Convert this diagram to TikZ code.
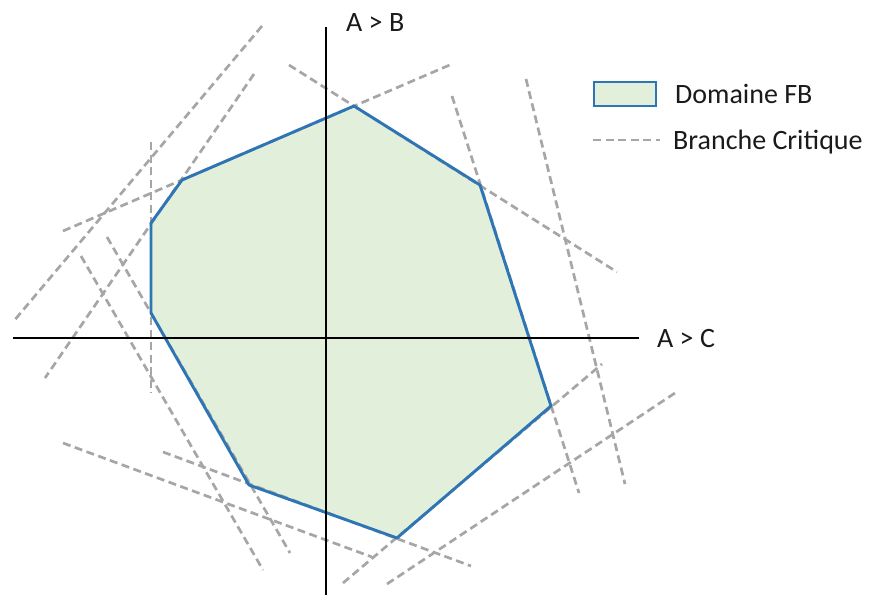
\documentclass[tikz,border=0pt]{standalone}
\usepackage{fontspec}
\setmainfont{Carlito}
\definecolor{fbfill}{HTML}{E2EFDA}
\definecolor{fbline}{HTML}{2E75B6}
\definecolor{critgray}{HTML}{A6A6A6}
\definecolor{txt}{HTML}{1A1A1A}
\tikzset{
  crit/.style={draw=critgray, line width=2.7pt, dash pattern=on 8pt off 4.5pt},
  axisline/.style={draw=black, line width=2.9pt},
  fbedge/.style={draw=fbline, line width=2.9pt, line join=round},
  lbl/.style={font=\fontsize{28}{32}\selectfont, text=txt, inner sep=0pt, anchor=base west}
}
\begin{document}
\begin{tikzpicture}[x=1pt,y=-1pt]
\useasboundingbox (0,0) rectangle (870,595);
% polygon vertices
\coordinate (p1) at (354,106);
\coordinate (p2) at (480,185);
\coordinate (p3) at (551,406);
\coordinate (p4) at (397,538);
\coordinate (p5) at (249,485);
\coordinate (p6) at (151,313);
\coordinate (p7) at (151,223);
\coordinate (p8) at (182,180);
\fill[fbfill] (p1) -- (p2) -- (p3) -- (p4) -- (p5) -- (p6) -- (p7) -- (p8) -- cycle;
% critical branches
\draw[crit] (262,26) -- (13,322);
\draw[crit] (254,74) -- (45,378);
\draw[crit] (151,142) -- (151,393);
\draw[crit] (63,231) -- (452,64);
\draw[crit] (289,65) -- (617,272);
\draw[crit] (452,96) -- (579,493);
\draw[crit] (526,79) -- (625,484);
\draw[crit] (343,583) -- (602,364);
\draw[crit] (387,584) -- (678,391);
\draw[crit] (163,452) -- (471,566);
\draw[crit] (63,443) -- (372,557);
\draw[crit] (107,237) -- (290,553);
\draw[crit] (81,256) -- (263,570);
% domain outline
\draw[fbedge] (p1) -- (p2) -- (p3) -- (p4) -- (p5) -- (p6) -- (p7) -- (p8) -- cycle;
% axes
\coordinate (yt) at (326,27);
\coordinate (yb) at (326,595);
\coordinate (xl) at (13,338);
\coordinate (xr) at (639,338);
\draw[axisline] (yb) -- (yt);
\draw[axisline] (xl) -- (xr);
\node[lbl] (lab) at (346,31) {A > B};
\node[lbl] (lac) at (657,347) {A > C};
% legend
\node[draw=fbline, fill=fbfill, line width=2.9pt, minimum width=62pt, minimum height=24pt, inner sep=0pt] (legbox) at (625,94) {};
\node[lbl] (legdom) at (675,103) {Domaine FB};
\coordinate (lc1) at (593,140);
\coordinate (lc2) at (660,140);
\draw[crit] (lc1) -- (lc2);
\node[lbl] (legcrit) at (673,149) {Branche Critique};
\end{tikzpicture}
\end{document}
